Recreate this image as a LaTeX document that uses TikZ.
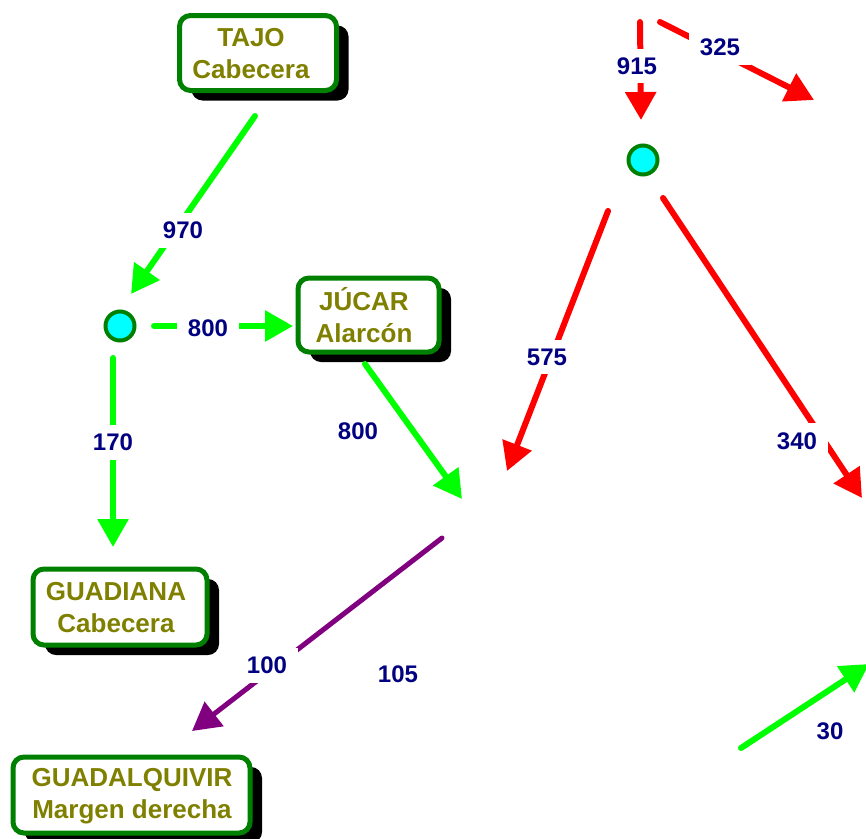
\documentclass[tikz,border=0pt]{standalone}
\usepackage{fontspec}
\setmainfont{Liberation Sans}
\usetikzlibrary{arrows.meta,shadows}
\definecolor{boxgreen}{RGB}{0,128,0}
\definecolor{olivetxt}{RGB}{128,128,0}
\definecolor{navytxt}{RGB}{0,0,128}
\definecolor{limeline}{RGB}{0,255,0}
\definecolor{redline}{RGB}{255,0,0}
\definecolor{purpleline}{RGB}{128,0,128}
\definecolor{cyanfill}{RGB}{0,255,255}
\begin{document}
\begin{tikzpicture}[x=1pt,y=-1pt,
  basin/.style={draw=boxgreen, line width=5pt, rounded corners=11pt, fill=white,
    drop shadow={shadow xshift=12pt, shadow yshift=-10pt, fill=black, opacity=1},
    inner sep=0pt},
  basintext/.style={text=olivetxt, font=\bfseries\fontsize{26}{32}\selectfont, align=center, inner sep=0pt},
  junction/.style={circle, draw=boxgreen, line width=4pt, fill=cyanfill, minimum size=29pt, inner sep=0pt},
  flow/.style={line width=6pt, line cap=round, -{Triangle[length=28pt,width=30pt]}},
  gflow/.style={flow, draw=limeline, fill=limeline},
  rflow/.style={flow, draw=redline, fill=redline},
  pflow/.style={flow, line width=5pt, draw=purpleline, fill=purpleline},
  qty/.style={fill=white, text=navytxt, font=\bfseries\fontsize{24}{28}\selectfont, inner xsep=11pt, inner ysep=9pt},
]
\useasboundingbox (0,0) rectangle (866,838);

% boxes
\node[basin, minimum width=157pt, minimum height=75pt] (tajo) at (258,53) {};
\node[basintext] (tajot) at (251,54) {TAJO\\Cabecera};
\node[basin, minimum width=141pt, minimum height=74pt] (jucar) at (368.5,315) {};
\node[basintext] (jucart) at (364,315) {JÚCAR\\Alarcón};
\node[basin, minimum width=174pt, minimum height=76pt] (guadiana) at (120,607) {};
\node[basintext] (guadianat) at (116,608) {GUADIANA\\Cabecera};
\node[basin, minimum width=237pt, minimum height=76pt] (guadal) at (131.5,795) {};
\node[basintext] (guadalt) at (132,796) {GUADALQUIVIR\\Margen derecha};

% junctions
\node[junction] (j1) at (120,326) {};
\node[junction] (j2) at (643,160) {};

% connector ends
\coordinate (g1s) at (255,116);  \coordinate (g1e) at (131,294);
\coordinate (g2s) at (154,326);  \coordinate (g2e) at (293,326);
\coordinate (g3s) at (113,358);  \coordinate (g3e) at (113,547);
\coordinate (g4s) at (365,364);  \coordinate (g4e) at (462,499);
\coordinate (r1s) at (640,22);   \coordinate (r1e) at (641,120);
\coordinate (r2s) at (660,22);   \coordinate (r2e) at (814,100);
\coordinate (r3s) at (608,211);  \coordinate (r3e) at (507,471);
\coordinate (r4s) at (663,198);  \coordinate (r4e) at (862,498);
\coordinate (p1s) at (442,538);  \coordinate (p1e) at (192,731);
\coordinate (g5s) at (741,748);  \coordinate (g5e) at (869,664);

% flows
\draw[gflow] (g1s) -- (g1e);
\draw[gflow] (g2s) -- (g2e);
\draw[gflow] (g3s) -- (g3e);
\draw[gflow] (g4s) -- (g4e);
\draw[rflow] (r1s) -- (r1e);
\draw[rflow] (r2s) -- (r2e);
\draw[rflow] (r3s) -- (r3e);
\draw[rflow] (r4s) -- (r4e);
\draw[pflow] (p1s) -- (p1e);
\draw[gflow] (g5s) -- (g5e);

% quantities
\node[qty] (q970) at (183,230) {970};
\node[qty] (q800a) at (208,328) {800};
\node[qty] (q170) at (113,442) {170};
\node[qty] (q800b) at (358,431) {800};
\node[qty] (q915) at (637,66) {915};
\node[qty] (q325) at (720,47) {325};
\node[qty] (q575) at (547,357) {575};
\node[qty] (q340) at (797,441) {340};
\node[qty] (q100) at (267,665) {100};
\node[qty] (q105) at (398,674) {105};
\node[qty] (q30) at (830,731) {30};
\end{tikzpicture}
\end{document}
